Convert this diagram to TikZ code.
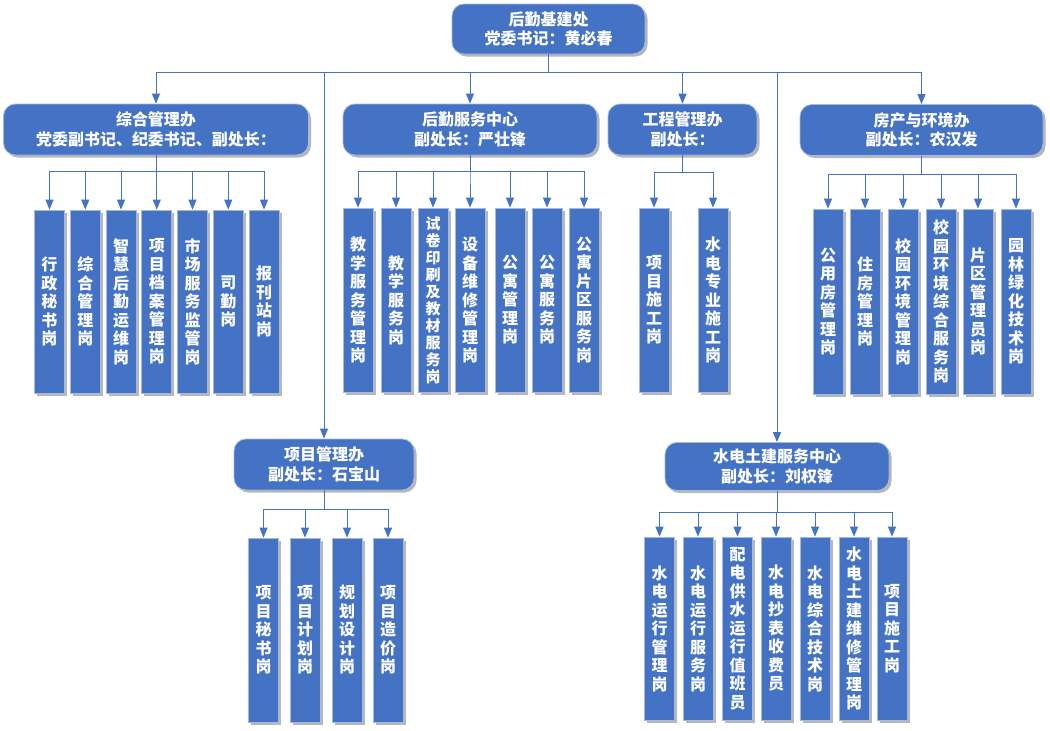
\documentclass[tikz,border=0pt]{standalone}
\usepackage{fontspec}
\setmainfont{Noto Sans CJK SC}
\usetikzlibrary{arrows.meta,shadows}
\definecolor{obl}{RGB}{68,114,196}
\definecolor{obd}{RGB}{165,185,222}
\begin{document}
\begin{tikzpicture}[x=1pt,y=-1pt,
  shad/.style={drop shadow={shadow xshift=2.5pt,shadow yshift=-2.5pt,opacity=0.4,fill=black!70}},
  lvl/.style={shad,rounded corners=12pt,fill=obl,draw=obd,line width=0.8pt,text=white,
    font=\bfseries\fontsize{16}{19.5}\selectfont,align=center,inner sep=0pt},
  post/.style={shad,fill=obl,draw=obd,line width=0.8pt,text=white,
    font=\bfseries\fontsize{16}{18.5}\selectfont,align=center,inner sep=0pt,
    minimum width=30pt},
  postsm/.style={post,font=\bfseries\fontsize{15}{17}\selectfont},
  ln/.style={draw=obl,line width=1pt},
  arr/.style={ln,-{Triangle[width=8pt,length=10pt]}}]
\useasboundingbox (0,0) rectangle (1050,731);
\fill[white] (0,0) rectangle (1050,731);

% level 1 and 2
\node[lvl,minimum width=193pt,minimum height=50pt] (top) at (548.5,29) {后勤基建处\\党委书记：黄必春};
\node[lvl,minimum width=305pt,minimum height=51pt] (zh) at (156,129.5) {综合管理办\\党委副书记、纪委书记、副处长：};
\node[lvl,minimum width=254pt,minimum height=51pt] (hq) at (470,129.5) {后勤服务中心\\副处长：严壮锋};
\node[lvl,minimum width=149pt,minimum height=51pt] (gc) at (682.5,129.5) {工程管理办\\副处长：};
\node[lvl,minimum width=243pt,minimum height=51pt] (fc) at (921.5,130) {房产与环境办\\副处长：农汉发};
\node[lvl,minimum width=180pt,minimum height=51pt] (xm) at (324,464.5) {项目管理办\\副处长：石宝山};
\node[lvl,minimum width=224pt,minimum height=48pt] (sd) at (777,466.5) {水电土建服务中心\\副处长：刘权锋};

% 综合管理办 posts
\node[post,minimum height=183pt] (zh1) at (49.5,301.5) {行\\政\\秘\\书\\岗};
\node[post,minimum height=183pt] (zh2) at (85.25,301.5) {综\\合\\管\\理\\岗};
\node[post,minimum height=183pt] (zh3) at (121,301.5) {智\\慧\\后\\勤\\运\\维\\岗};
\node[post,minimum height=183pt] (zh4) at (156.75,301.5) {项\\目\\档\\案\\管\\理\\岗};
\node[post,minimum height=183pt] (zh5) at (192.5,301.5) {市\\场\\服\\务\\监\\管\\岗};
\node[post,minimum height=183pt] (zh6) at (228.25,301.5) {司\\勤\\岗};
\node[post,minimum height=183pt] (zh7) at (264,301.5) {报\\刊\\站\\岗};

% 后勤服务中心 posts
\node[post,minimum height=184pt] (hq1) at (358,300) {教\\学\\服\\务\\管\\理\\岗};
\node[post,minimum height=184pt] (hq2) at (396,300) {教\\学\\服\\务\\岗};
\node[postsm,minimum height=184pt] (hq3) at (433,300) {试\\卷\\印\\刷\\及\\教\\材\\服\\务\\岗};
\node[post,minimum height=184pt] (hq4) at (470,300) {设\\备\\维\\修\\管\\理\\岗};
\node[post,minimum height=184pt] (hq5) at (510,300) {公\\寓\\管\\理\\岗};
\node[post,minimum height=184pt] (hq6) at (547,300) {公\\寓\\服\\务\\岗};
\node[post,minimum height=184pt] (hq7) at (584,300) {公\\寓\\片\\区\\服\\务\\岗};

% 工程管理办 posts
\node[post,minimum height=184pt] (gc1) at (654,300) {项\\目\\施\\工\\岗};
\node[post,minimum height=184pt] (gc2) at (713,300) {水\\电\\专\\业\\施\\工\\岗};

% 房产与环境办 posts
\node[post,minimum height=185pt] (fc1) at (828,301.5) {公\\用\\房\\管\\理\\岗};
\node[post,minimum height=185pt] (fc2) at (865,301.5) {住\\房\\管\\理\\岗};
\node[post,minimum height=185pt] (fc3) at (903,301.5) {校\\园\\环\\境\\管\\理\\岗};
\node[post,minimum height=185pt] (fc4) at (941,301.5) {校\\园\\环\\境\\综\\合\\服\\务\\岗};
\node[post,minimum height=185pt] (fc5) at (978,301.5) {片\\区\\管\\理\\员\\岗};
\node[post,minimum height=185pt] (fc6) at (1016,301.5) {园\\林\\绿\\化\\技\\术\\岗};

% 项目管理办 posts
\node[post,minimum height=184pt] (xm1) at (263.5,630) {项\\目\\秘\\书\\岗};
\node[post,minimum height=184pt] (xm2) at (305,630) {项\\目\\计\\划\\岗};
\node[post,minimum height=184pt] (xm3) at (347,630) {规\\划\\设\\计\\岗};
\node[post,minimum height=184pt] (xm4) at (388,630) {项\\目\\造\\价\\岗};

% 水电土建服务中心 posts
\node[post,minimum height=183pt] (sd1) at (659.5,628.5) {水\\电\\运\\行\\管\\理\\岗};
\node[post,minimum height=183pt] (sd2) at (698,628.5) {水\\电\\运\\行\\服\\务\\岗};
\node[post,minimum height=183pt] (sd3) at (737.5,628.5) {配\\电\\供\\水\\运\\行\\值\\班\\员};
\node[post,minimum height=183pt] (sd4) at (776,628.5) {水\\电\\抄\\表\\收\\费\\员};
\node[post,minimum height=183pt] (sd5) at (815,628.5) {水\\电\\综\\合\\技\\术\\岗};
\node[post,minimum height=183pt] (sd6) at (854,628.5) {水\\电\\土\\建\\维\\修\\管\\理\\岗};
\node[post,minimum height=183pt] (sd7) at (892,628.5) {项\\目\\施\\工\\岗};

% bus coordinates
\coordinate (b0) at (548.5,72);
\coordinate (bzh) at (156,171);
\coordinate (bhq) at (470,171);
\coordinate (bgc) at (682.5,172);
\coordinate (bfc) at (921.5,174);
\coordinate (bxm) at (324,509);
\coordinate (bsd) at (777,512);

% connectors level 1 -> 2
\foreach \n in {zh,hq,gc,fc,xm,sd}
  \draw[arr] (top.south) -- (b0) -| (\n.north);

% connectors level 2 -> posts
\foreach \i in {1,...,7} \draw[arr] (zh.south) -- (bzh) -| (zh\i.north);
\foreach \i in {1,...,7} \draw[arr] (hq.south) -- (bhq) -| (hq\i.north);
\foreach \i in {1,2} \draw[arr] (gc.south) -- (bgc) -| (gc\i.north);
\foreach \i in {1,...,6} \draw[arr] (fc.south) -- (bfc) -| (fc\i.north);
\foreach \i in {1,...,4} \draw[arr] (xm.south) -- (bxm) -| (xm\i.north);
\foreach \i in {1,...,7} \draw[arr] (sd.south) -- (bsd) -| (sd\i.north);
\end{tikzpicture}
\end{document}
